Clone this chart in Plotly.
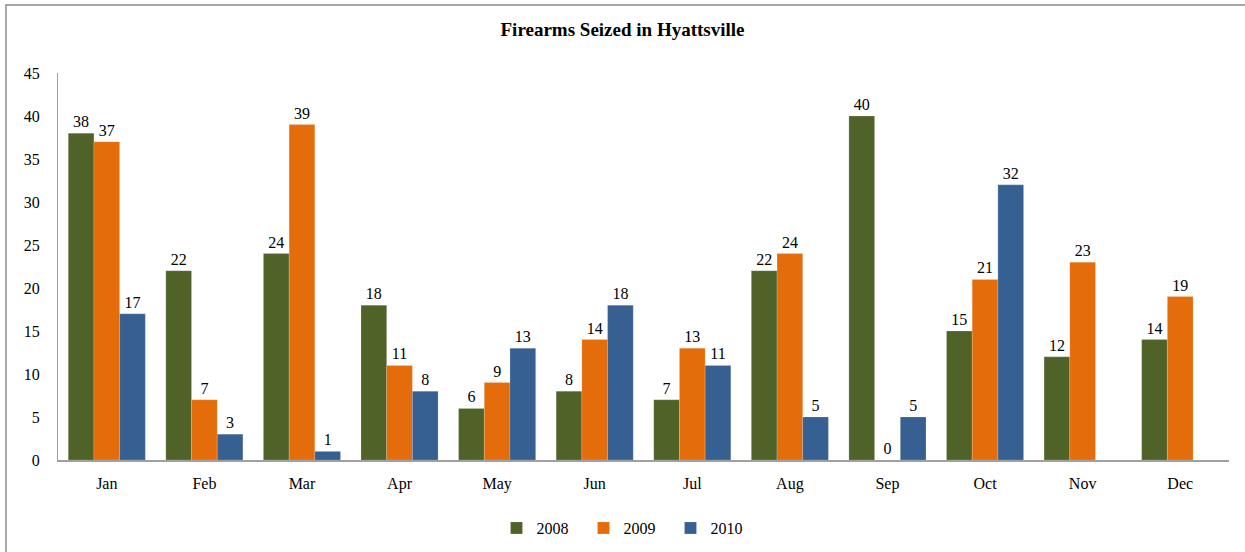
import plotly.graph_objects as go

months = ["Jan", "Feb", "Mar", "Apr", "May", "Jun", "Jul", "Aug", "Sep", "Oct", "Nov", "Dec"]
s2008 = [38, 22, 24, 18, 6, 8, 7, 22, 40, 15, 12, 14]
s2009 = [37, 7, 39, 11, 9, 14, 13, 24, 0, 21, 23, 19]
s2010 = [17, 3, 1, 8, 13, 18, 11, 5, 5, 32, None, None]

series = [("2008", s2008, "#4F6228"), ("2009", s2009, "#E46C0A"), ("2010", s2010, "#376092")]

FONT = "Liberation Serif, Times New Roman, serif"

fig = go.Figure()
for name, vals, col in series:
    fig.add_trace(go.Bar(
        x=months, y=vals, name=name,
        marker=dict(color=col, line=dict(color="rgba(255,255,255,0.35)", width=0.5)),
        text=[("" if v is None else str(v)) for v in vals],
        textposition="outside", cliponaxis=False,
        textfont=dict(family=FONT, size=16, color="#000000"),
    ))

L, R, T, B = 58, 16, 73, 92
W, H = 1245, 552
pw, ph = W - L - R, H - T - B

fig.update_layout(
    width=W, height=H,
    margin=dict(l=L, r=R, t=T, b=B, pad=0, autoexpand=False),
    paper_bgcolor="white", plot_bgcolor="white",
    barmode="group", bargap=0.21, bargroupgap=0,
    font=dict(family=FONT, size=16, color="#000000"),
    title=dict(text="<b>Firearms Seized in Hyattsville</b>", x=0.5, xanchor="center",
               y=1 - 29 / H, yanchor="middle", font=dict(family=FONT, size=19, color="#000")),
    showlegend=True,
    legend=dict(orientation="h", x=(627 - L) / pw, xanchor="center", y=-(528 - 460) / ph, yanchor="middle",
                font=dict(family=FONT, size=16), entrywidth=42, entrywidthmode="pixels",
                itemwidth=30, traceorder="normal"),
    xaxis=dict(showline=True, linecolor="#A0A0A0", linewidth=1.5, ticks="", showgrid=False,
               tickfont=dict(family=FONT, size=16), ticklabelstandoff=8, automargin=False),
    yaxis=dict(range=[0, 45], dtick=5, showline=True, linecolor="#A0A0A0", linewidth=1,
               ticks="", showgrid=False, zeroline=False, tickfont=dict(family=FONT, size=16),
               ticklabelstandoff=14, automargin=False),
    shapes=[dict(type="rect", xref="paper", yref="paper",
                 x0=(6 - L) / pw, x1=(W + 10 - L) / pw,
                 y0=-(H + 10 - (H - B)) / ph, y1=1 + (T - 5) / ph,
                 line=dict(color="#8C8C8C", width=1.5), fillcolor="rgba(0,0,0,0)", layer="below")],
)

fig.write_html("out.html", config={"displayModeBar": False},
               post_script="document.body.style.margin='0px';document.body.style.overflow='hidden';")
